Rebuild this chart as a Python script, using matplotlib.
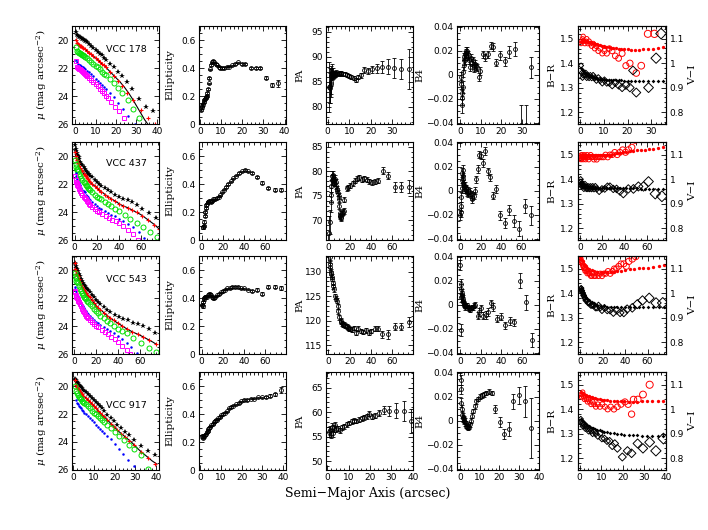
import matplotlib
matplotlib.use("Agg")
import matplotlib.pyplot as plt
from matplotlib.ticker import MultipleLocator, FuncFormatter

names = ["VCC 178", "VCC 437", "VCC 543", "VCC 917"]

# ---------------- surface brightness profiles (mag arcsec^-2) ----------------
mu178_star_x = [0.5,1,1.5,2,2.5,3,3.5,4,4.5,5,5.5,6,7,8,9,10,11,12,13,14,15,17,19,21,23,25.5,28,31,34.5,38]
mu178_star = [19.4,19.65,19.7,19.75,19.8,19.85,19.9,19.95,20.0,20.05,20.1,20.15,20.3,20.4,20.55,20.7,20.85,21.0,21.1,21.25,21.4,21.7,21.95,22.3,22.6,23.0,23.5,24.2,24.8,25.1]
mu178_red_x = [0.3,1,1.5,2,2.5,3,3.5,4,5,6,7,8,9,10,11,12,13,14,15,17,19,21,23,25.5,28.5,32,35.5,39]
mu178_red = [20.0,20.2,20.3,20.35,20.4,20.45,20.5,20.55,20.65,20.8,20.9,21.0,21.15,21.3,21.4,21.55,21.7,21.8,21.95,22.25,22.6,22.95,23.3,23.75,24.3,25.0,25.6,26.0]
mu178_line_x = [0.3,2,4,6,8,10,12,14,16,18,20,22,24,26,28,30,32,34,35.5]
mu178_line = [20.0,20.35,20.55,20.8,21.0,21.3,21.55,21.8,22.1,22.4,22.7,23.0,23.35,23.75,24.2,24.7,25.2,25.7,26.0]
mu178_grn_x = [0.3,1,1.5,2,2.5,3,3.5,4,4.5,5,6,7,8,9,10,11,12,13,14,15,17,19,21,23,26,28.5,31]
mu178_grn = [20.5,20.75,20.85,20.9,20.95,21.0,21.05,21.1,21.15,21.2,21.3,21.45,21.55,21.7,21.85,21.95,22.1,22.25,22.4,22.5,22.8,23.1,23.4,23.75,24.3,24.9,25.6]
mu178_blu_x = [0.5,1,1.5,2,2.5,3,3.5,4,4.5,5,6,7,8,9,10,11,12,13,14,15,17,19,21,23.5,26,29.5]
mu178_blu = [21.4,21.6,21.7,21.75,21.8,21.85,21.9,21.95,22.0,22.05,22.2,22.3,22.45,22.6,22.75,22.9,23.05,23.2,23.35,23.5,23.8,24.1,24.5,24.9,25.4,26.0]
mu178_mag_x = [0.5,1,1.5,2,2.5,3,3.5,4,4.5,5,5.5,6,7,8,9,10,11,12,13,14,15,16,17.5,19.5,21.5,24]
mu178_mag = [21.5,21.9,22.0,22.05,22.1,22.15,22.2,22.3,22.35,22.4,22.5,22.55,22.7,22.85,23.0,23.15,23.3,23.5,23.65,23.8,24.0,24.15,24.4,24.75,25.1,25.6]

mu437_star_x = [0.3,1,1.5,2,2.5,3,3.5,4,5,6,7,8,9,10,11,12,13,14,16,18,20,22,24,27,30,33,36,40,44,48,52,56,61,67,73.5]
mu437_star = [19.2,19.5,19.65,19.8,19.9,20.0,20.1,20.2,20.4,20.55,20.65,20.8,20.95,21.05,21.15,21.25,21.3,21.4,21.5,21.7,21.85,22.0,22.15,22.3,22.45,22.6,22.75,22.9,23.05,23.15,23.3,23.5,23.75,24.1,24.45]
mu437_red_x = [0.3,1,1.5,2,2.5,3,4,5,6,7,8,9,10,11,12,13,14,16,18,20,22,24,27,30,33,36,40,44,48,52,56,61,66,72,76]
mu437_red = [19.7,20.0,20.15,20.3,20.4,20.5,20.7,20.85,21.0,21.1,21.25,21.35,21.45,21.55,21.65,21.75,21.85,22.0,22.15,22.3,22.45,22.55,22.75,22.9,23.05,23.2,23.4,23.55,23.7,23.85,24.0,24.25,24.55,24.9,25.2]
mu437_line_x = [0.3,2,4,6,8,10,13,16,20,25,30,36,42,48,54,60,66,72,76]
mu437_line = [19.7,20.3,20.7,21.0,21.25,21.45,21.75,22.0,22.3,22.6,22.9,23.2,23.5,23.7,23.95,24.2,24.55,24.9,25.2]
mu437_grn_x = [0.3,1,1.5,2,2.5,3,4,5,6,7,8,9,10,11,12,13,14,16,18,20,22,24,27,30,33,36,40,45,50,56,62,68,74.5]
mu437_grn = [20.25,20.6,20.75,20.9,21.0,21.1,21.3,21.45,21.6,21.7,21.85,21.95,22.05,22.15,22.25,22.35,22.45,22.6,22.75,22.9,23.0,23.1,23.3,23.45,23.6,23.75,23.95,24.2,24.5,24.8,25.1,25.45,25.8]
mu437_blu_x = [1,1.5,2,2.5,3,4,5,6,7,8,9,10,11,12,13,14,16,18,20,22,24,27,30,33,36,40,44,48,53,58,63]
mu437_blu = [21.2,21.4,21.55,21.65,21.75,21.95,22.1,22.25,22.4,22.5,22.6,22.75,22.85,22.95,23.05,23.15,23.3,23.45,23.6,23.7,23.8,23.95,24.05,24.2,24.3,24.5,24.65,24.85,25.1,25.45,25.85]
mu437_mag_x = [0.5,1,1.5,2,2.5,3,3.5,4,5,6,7,8,9,10,11,12,13,14,16,18,20,22,25,28,31,34,37,40,44,48,53,57]
mu437_mag = [21.4,21.7,21.85,21.95,22.05,22.15,22.25,22.35,22.5,22.65,22.8,22.9,23.0,23.1,23.2,23.3,23.4,23.5,23.65,23.8,23.9,24.0,24.15,24.3,24.45,24.55,24.65,24.8,25.0,25.25,25.6,26.0]

mu543_star_x = [0.3,1,1.5,2,2.5,3,4,5,6,7,8,9,10,11,12,13,14,16,18,20,22,24,27,30,33,37,41,45,49,54,58,63,68,74]
mu543_star = [19.0,19.5,19.7,19.85,19.95,20.05,20.25,20.45,20.65,20.8,20.95,21.05,21.15,21.25,21.35,21.45,21.55,21.75,21.95,22.15,22.3,22.45,22.65,22.85,23.0,23.2,23.35,23.5,23.6,23.75,23.85,24.0,24.2,24.5]
mu543_red_x = [0.3,1,1.5,2,2.5,3,4,5,6,7,8,9,10,11,12,13,14,16,18,20,22,24,27,30,33,36,40,44,48,53,58,63,68,75]
mu543_red = [19.5,19.9,20.1,20.25,20.35,20.45,20.65,20.85,21.05,21.2,21.35,21.45,21.55,21.65,21.75,21.85,21.95,22.15,22.35,22.55,22.7,22.85,23.05,23.25,23.4,23.6,23.8,24.0,24.2,24.4,24.6,24.8,25.0,25.3]
mu543_line_x = [0.3,2,4,6,8,10,13,16,20,25,30,36,42,48,54,60,66,72,75]
mu543_line = [19.5,20.25,20.65,21.05,21.35,21.55,21.85,22.15,22.55,22.9,23.25,23.6,23.9,24.2,24.45,24.65,24.9,25.15,25.3]
mu543_grn_x = [0.3,1,1.5,2,2.5,3,4,5,6,7,8,9,10,11,12,13,14,16,18,20,22,24,27,30,33,36,40,44,48,54,61,68,75]
mu543_grn = [20.2,20.45,20.6,20.75,20.85,20.95,21.15,21.35,21.5,21.65,21.8,21.9,22.0,22.1,22.2,22.3,22.4,22.6,22.8,22.95,23.1,23.25,23.45,23.65,23.8,24.0,24.2,24.35,24.5,24.85,25.2,25.55,25.85]
mu543_blu_x = [0.5,1,1.5,2,2.5,3,4,5,6,7,8,9,10,11,12,13,14,16,18,20,22,24,27,30,33,36,40,44,48,52,57]
mu543_blu = [21.2,21.35,21.5,21.65,21.75,21.85,22.05,22.2,22.35,22.5,22.6,22.7,22.85,22.95,23.05,23.15,23.25,23.4,23.55,23.7,23.8,23.9,24.05,24.2,24.35,24.5,24.7,24.95,25.2,25.5,25.95]
mu543_mag_x = [0.5,1,1.5,2,2.5,3,3.5,4,5,6,7,8,9,10,11,12,13,14,16,18,20,22,25,28,31,34,37,40,44,48,51]
mu543_mag = [21.5,21.6,21.75,21.9,22.0,22.1,22.2,22.3,22.45,22.6,22.75,22.9,23.0,23.15,23.25,23.35,23.45,23.55,23.7,23.85,24.0,24.1,24.3,24.45,24.6,24.8,24.95,25.15,25.45,25.7,26.0]

mu917_star_x = [1,1.5,2,2.5,3,3.5,4,4.5,5,5.5,6,7,8,9,10,11,12,13,14,15,16.5,18,19.5,21,23,25,27,29.5,32.5,36,39.5]
mu917_star = [19.5,19.6,19.7,19.8,19.9,20.0,20.05,20.15,20.3,20.35,20.45,20.6,20.7,20.85,21.0,21.15,21.3,21.45,21.6,21.8,22.05,22.3,22.5,22.75,23.0,23.25,23.5,23.85,24.3,24.65,24.9]
mu917_red_x = [0.8,1.5,2,2.5,3,3.5,4,4.5,5,6,7,8,9,10,11,12,13,14,15,16.5,18,19.5,21,23,25,27,29.5,32.5,36,39.5]
mu917_red = [19.6,19.9,20.05,20.2,20.3,20.4,20.5,20.6,20.7,20.85,21.0,21.15,21.3,21.45,21.6,21.75,21.9,22.05,22.2,22.45,22.7,22.9,23.15,23.4,23.65,23.9,24.25,24.7,25.15,25.6]
mu917_line_x = [0.8,2,4,6,8,10,12,14,16,18,20,22,24,26,28,30,32,34,36,38,40]
mu917_line = [19.6,20.05,20.5,20.85,21.15,21.45,21.75,22.05,22.35,22.65,22.95,23.25,23.5,23.75,24.0,24.3,24.6,24.85,25.1,25.35,25.55]
mu917_grn_x = [1,1.5,2,2.5,3,3.5,4,4.5,5,5.5,6,7,8,9,10,11,12,13,14,15,16.5,18,20,22,24.5,27,29.5,32.5,36]
mu917_grn = [20.0,20.35,20.5,20.65,20.75,20.85,20.95,21.05,21.15,21.2,21.3,21.45,21.6,21.75,21.9,22.0,22.15,22.3,22.45,22.6,22.8,23.0,23.25,23.55,23.85,24.2,24.5,24.95,25.9]
mu917_blu_x = [1.5,2,2.5,3,3.5,4,4.5,5,5.5,6,7,8,9,10,11,12,13,14,15,16.5,18,20,22,24,26.5,29.5]
mu917_blu = [21.0,21.2,21.3,21.4,21.5,21.6,21.7,21.8,21.9,22.0,22.15,22.3,22.45,22.6,22.75,22.9,23.05,23.2,23.35,23.55,23.8,24.15,24.5,24.85,25.3,25.7]

# ---------------- ellipticity ----------------
e178_x = [0.5,0.8,1.1,1.4,1.7,2.0,2.3,2.6,2.9,3.2,3.5,3.8,4.1,4.4,4.8,5.2,5.7,6.2,6.8,7.4,8.1,8.8,9.6,10.5,11.5,12.6,13.8,15.1,16.5,18.0,19.7,21.5,24.0,26.3,28.5,31.2,34.0,37.0]
e178 = [0.10,0.12,0.13,0.14,0.16,0.17,0.18,0.19,0.19,0.20,0.22,0.25,0.29,0.33,0.39,0.42,0.44,0.45,0.44,0.43,0.42,0.41,0.40,0.40,0.40,0.41,0.41,0.42,0.43,0.44,0.43,0.43,0.40,0.40,0.40,0.33,0.28,0.29]
e178_err = [0.010,0.010,0.010,0.010,0.010,0.008,0.008,0.008,0.008,0.008,
            0.006,0.006,0.006,0.006,0.006,0.006,0.006,0.006,0.006,0.006,
            0.005,0.005,0.005,0.005,0.005,0.005,0.005,0.005,0.005,0.005,
            0.005,0.006,0.008,0.008,0.010,0.012,0.015,0.025]
e437_x = [1.0,1.5,2.0,2.5,3.0,3.5,4.0,4.5,5.0,5.5,6.0,7.0,8.0,9.0,10.0,11.0,12.0,13.0,14.5,16.0,17.5,19.0,21.0,23.0,25.0,27.5,30.0,32.5,35.0,38.0,41.0,44.0,47.5,52.0,57.5,63.0,69.5,75.5]
e437 = [0.09,0.09,0.10,0.13,0.17,0.20,0.23,0.25,0.26,0.27,0.27,0.28,0.28,0.27,0.28,0.29,0.29,0.29,0.30,0.31,0.32,0.34,0.36,0.38,0.40,0.42,0.44,0.46,0.48,0.49,0.50,0.49,0.48,0.45,0.41,0.37,0.36,0.36]
e437_err = [0.010,0.010,0.010,0.010,0.008,0.008,0.008,0.006,0.006,0.006,
            0.005,0.005,0.005,0.005,0.005,0.005,0.005,0.005,0.005,0.005,
            0.005,0.005,0.005,0.005,0.005,0.005,0.005,0.005,0.005,0.005,
            0.005,0.005,0.006,0.006,0.008,0.008,0.010,0.010]
e543_x = [0.5,1.0,1.5,2.0,2.5,3.0,3.5,4.0,5.0,6.0,7.0,8.0,9.0,10.0,11.0,12.0,13.0,14.5,16.0,18.0,20.0,22.0,24.0,26.5,29.0,31.5,34.0,37.0,40.0,43.5,47.5,52.0,57.5,62.5,69.0,75.5]
e543 = [0.35,0.34,0.37,0.39,0.40,0.41,0.41,0.41,0.41,0.42,0.43,0.43,0.42,0.41,0.40,0.40,0.41,0.42,0.43,0.44,0.45,0.46,0.47,0.47,0.48,0.48,0.48,0.47,0.47,0.46,0.45,0.46,0.43,0.48,0.48,0.47]
e543_err = [0.010,0.010,0.008,0.008,0.008,0.006,0.006,0.006,0.005,0.005,
            0.005,0.005,0.005,0.005,0.005,0.005,0.005,0.005,0.005,0.005,
            0.005,0.005,0.005,0.005,0.005,0.005,0.005,0.005,0.005,0.005,
            0.008,0.008,0.010,0.010,0.012,0.015]
e917_x = [0.8,1.2,1.6,2.0,2.4,2.8,3.2,3.6,4.0,4.5,5.0,5.5,6.0,6.5,7.0,7.5,8.0,8.7,9.5,10.3,11.2,12.1,13.0,14.0,15.0,16.0,17.2,18.5,19.8,21.2,22.7,24.3,26.0,27.8,29.7,31.7,33.8,36.0,38.8]
e917 = [0.24,0.23,0.24,0.24,0.25,0.26,0.27,0.28,0.29,0.30,0.31,0.32,0.33,0.34,0.35,0.36,0.36,0.37,0.38,0.39,0.40,0.41,0.42,0.44,0.45,0.46,0.47,0.48,0.49,0.50,0.50,0.51,0.51,0.52,0.52,0.52,0.53,0.54,0.57]
e917_err = [0.010,0.010,0.008,0.008,0.006,0.006,0.006,0.005,0.005,0.005,
            0.005,0.005,0.005,0.005,0.005,0.005,0.005,0.005,0.005,0.005,
            0.005,0.005,0.005,0.005,0.005,0.005,0.005,0.005,0.005,0.005,
            0.005,0.005,0.005,0.005,0.005,0.008,0.010,0.012,0.020]

# ---------------- position angle ----------------
pa178_x = [0.6,0.9,1.1,1.3,1.5,1.7,1.9,2.1,2.3,2.6,2.9,3.2,3.6,4.0,4.5,5.0,5.6,6.3,7.0,7.8,8.7,9.7,10.8,12.0,13.1,14.2,15.5,17.0,18.7,20.7,22.8,25.2,27.8,30.8,33.8,37.5]
pa178 = [84.0,84.2,83.8,84.5,85.0,86.2,87.0,86.5,86.8,86.3,86.5,86.6,86.5,86.8,86.6,86.7,86.6,86.8,86.6,86.5,86.3,86.2,86.0,85.8,85.3,85.9,86.3,87.4,87.1,87.5,87.7,87.9,88.0,87.7,87.6,87.6]
pa178_err = [5.0,3.5,3.0,2.5,2.5,2.0,1.5,1.2,1.0,0.8,
             0.7,0.6,0.5,0.5,0.4,0.4,0.4,0.4,0.4,0.4,
             0.4,0.4,0.4,0.4,0.4,0.4,0.5,0.6,0.6,0.7,
             0.9,1.2,1.5,2.0,2.0,4.0]
pa437_x = [0.9,1.6,2.2,2.5,2.8,3.1,3.5,4.0,4.4,4.7,5.0,5.3,5.7,6.2,6.7,7.2,7.8,8.4,9.0,9.6,10.0,10.3,10.6,10.9,11.3,11.8,12.3,12.8,13.5,14.2,15.0,17.1,18.7,20.2,22.7,24.9,27.0,29.0,31.1,33.3,35.8,38.3,41.0,44.0,46.7,51.3,56.0,62.2,68.4,75.6]
pa437 = [67.5,69.7,73.7,75.2,77.0,78.3,79.0,79.2,78.5,78.7,78.0,77.7,78.2,78.5,77.8,77.0,76.5,76.1,75.6,75.0,74.4,73.0,71.5,70.8,71.0,70.5,70.7,71.4,71.8,72.0,74.2,76.6,76.8,77.1,77.6,78.1,78.5,78.8,78.3,78.6,78.3,78.0,77.8,77.9,78.1,80.1,79.1,76.8,76.8,76.9]
pa437_err = [3.5,2.5,2.0,1.5,1.2,1.0,1.0,0.8,0.8,0.8,
             0.7,0.7,0.7,0.7,0.7,0.6,0.6,0.6,0.6,0.6,
             0.6,0.6,0.6,0.6,0.6,0.6,0.6,0.6,0.6,0.6,
             0.5,0.5,0.5,0.5,0.5,0.5,0.5,0.5,0.5,0.5,
             0.5,0.5,0.5,0.5,0.5,0.7,0.7,1.0,1.0,1.3]
pa543_x = [0.5,1.0,1.3,1.6,2.0,2.5,2.8,3.1,3.5,4.0,4.6,5.3,6.2,7.0,7.8,8.7,9.3,10.3,11.5,12.3,13.1,14.0,14.9,16.0,17.1,18.3,19.6,20.7,21.8,24.0,25.8,28.0,30.2,32.7,35.1,37.9,40.4,43.5,46.7,50.7,56.0,62.2,68.4,75.6]
pa543 = [137.0,134.5,133.0,131.5,131.0,130.0,129.5,129.0,128.5,127.7,127.0,126.4,125.0,124.5,124.1,122.9,121.9,120.7,120.0,119.8,119.5,119.2,119.2,119.0,118.9,118.6,118.4,118.3,118.2,118.5,117.5,118.4,117.9,117.7,118.0,117.5,117.9,118.4,118.4,117.2,117.2,118.8,118.8,119.8]
pa543_err = [1.0,1.0,0.8,0.8,0.7,0.6,0.6,0.5,0.5,0.5,
             0.5,0.5,0.5,0.5,0.5,0.5,0.5,0.5,0.5,0.5,
             0.5,0.5,0.5,0.5,0.5,0.5,0.5,0.5,0.5,0.5,
             0.5,0.5,0.5,0.5,0.5,0.5,0.5,0.5,0.5,0.7,
             1.0,0.8,0.8,1.0]
pa917_x = [1.0,1.4,1.8,2.2,2.7,3.0,3.5,4.1,4.9,5.9,7.0,8.1,9.1,10.2,11.5,12.6,13.7,15.0,16.3,17.4,18.6,19.8,21.0,22.5,24.2,26.6,29.0,32.0,35.7,39.4]
pa917 = [56.0,56.3,55.6,56.9,55.7,56.7,57.3,56.5,56.7,56.3,56.9,57.1,57.5,57.8,58.1,58.3,58.2,58.5,58.8,59.0,59.2,59.7,59.1,59.3,59.9,60.5,60.3,60.3,60.3,58.2]
pa917_err = [1.0,0.9,0.9,0.8,0.8,0.7,0.6,0.6,0.5,0.5,
             0.5,0.5,0.5,0.5,0.5,0.5,0.5,0.5,0.5,0.5,
             0.5,0.5,0.5,0.5,0.6,0.8,1.0,1.5,2.0,2.5]

# ---------------- B4 ----------------
b4_178_x = [0.3,0.5,0.7,0.9,1.1,1.3,1.5,1.7,1.9,2.1,2.3,2.5,2.8,3.1,3.4,3.7,4.1,4.5,4.9,5.3,5.7,6.2,6.6,7.0,7.4,7.8,8.2,9.0,9.8,11.1,12.3,13.4,15.1,16.1,17.5,19.7,21.8,24.1,26.6,29.5,32.0,34.8]
b4_178 = [-0.002,-0.008,-0.015,-0.019,-0.025,-0.010,0.002,0.008,0.012,0.015,0.017,0.012,0.020,0.018,0.020,0.015,0.017,0.012,0.006,0.014,0.010,0.012,0.0075,0.005,0.009,0.007,0.006,-0.002,0.003,0.017,0.0145,0.017,0.024,0.023,0.010,0.016,0.011,0.019,0.0215,-0.042,-0.042,0.006]
b4_178_err = [0.004,0.004,0.005,0.006,0.007,0.005,0.004,0.004,0.004,0.003,
              0.003,0.003,0.003,0.003,0.003,0.003,0.003,0.003,0.003,0.003,
              0.003,0.003,0.003,0.003,0.003,0.003,0.003,0.003,0.003,0.003,
              0.003,0.003,0.003,0.003,0.003,0.004,0.004,0.005,0.006,0.017,
              0.017,0.009]
b4_437_x = [0.3,0.6,0.9,1.2,1.5,1.8,2.1,2.4,2.7,3.0,3.3,3.7,4.1,4.5,5.0,5.5,6.0,6.6,7.3,8.2,9.3,10.5,11.3,12.1,13.1,14.2,15.4,17.0,18.7,20.3,22.3,24.6,26.9,29.5,32.1,35.4,39.3,43.6,47.5,52.5,57.4,63.0,69.5]
b4_437 = [-0.020,-0.018,-0.013,-0.005,0.002,0.009,0.015,0.017,0.012,0.0095,0.006,0.004,0.003,0.004,0.0015,0.001,0.002,-0.0015,-0.002,0.000,-0.001,-0.003,-0.005,-0.007,-0.004,0.000,0.0095,0.018,0.030,0.029,0.023,0.033,0.016,0.011,-0.004,0.0015,-0.0205,-0.027,-0.016,-0.025,-0.0315,-0.0125,-0.0205]
b4_437_err = [0.004,0.004,0.004,0.004,0.004,0.004,0.004,0.004,0.003,0.003,
              0.003,0.003,0.003,0.003,0.003,0.003,0.003,0.003,0.003,0.003,
              0.003,0.003,0.003,0.003,0.003,0.003,0.003,0.003,0.003,0.003,
              0.003,0.003,0.003,0.003,0.003,0.003,0.004,0.004,0.004,0.005,
              0.006,0.006,0.008]
b4_543_x = [0.3,0.5,0.7,1.0,1.3,1.6,1.9,2.2,2.6,3.0,3.3,3.8,4.3,4.8,5.2,5.8,6.6,7.4,8.2,9.3,10.5,11.5,12.5,13.6,14.8,17.0,18.5,20.3,22.3,24.6,26.9,29.5,31.8,35.4,39.3,43.3,48.2,52.5,58.0,63.3,69.5]
b4_543 = [0.033,0.006,-0.021,0.017,0.013,0.010,0.008,0.006,0.005,0.003,0.002,0.001,0.000,-0.001,-0.002,-0.001,-0.0005,-0.002,-0.003,-0.004,-0.0028,-0.002,-0.002,-0.001,0.000,-0.009,-0.006,-0.003,-0.009,-0.0085,-0.006,0.001,-0.002,-0.0115,-0.010,-0.017,-0.0135,-0.0145,0.020,0.002,-0.0295]
b4_543_err = [0.004,0.004,0.005,0.004,0.004,0.003,0.003,0.003,0.003,0.003,
              0.002,0.002,0.002,0.002,0.002,0.002,0.002,0.002,0.002,0.002,
              0.002,0.002,0.002,0.002,0.002,0.003,0.003,0.003,0.003,0.003,
              0.003,0.003,0.003,0.003,0.003,0.003,0.003,0.003,0.006,0.006,
              0.006]
b4_917_x = [0.3,0.5,0.7,0.9,1.1,1.3,1.6,1.9,2.2,2.5,2.9,3.3,3.7,4.1,4.6,5.1,5.6,6.2,6.8,7.5,8.3,9.2,10.1,11.1,12.2,13.4,14.7,16.1,17.9,20.1,22.1,24.7,26.9,29.8,32.9,36.1]
b4_917 = [0.034,0.026,0.015,0.010,0.005,0.003,0.002,0.001,0.000,-0.001,-0.002,-0.004,-0.005,-0.006,-0.005,-0.003,0.000,0.004,0.008,0.012,0.016,0.018,0.020,0.021,0.022,0.023,0.024,0.023,0.0097,-0.001,-0.011,-0.007,0.016,0.021,0.016,-0.006]
b4_917_err = [0.004,0.004,0.004,0.003,0.003,0.003,0.003,0.003,0.003,0.003,
              0.002,0.002,0.002,0.002,0.002,0.002,0.002,0.002,0.002,0.002,
              0.002,0.002,0.002,0.002,0.002,0.002,0.002,0.002,0.003,0.004,
              0.004,0.006,0.006,0.007,0.013,0.025]

# ---------------- colours: B-R (red, left axis) and V-I (black, right axis) ----------------
col178_mod_x = [0.3,0.7,1.1,1.5,1.9,2.3,2.7,3.1,3.5,4.0,4.5,5.0,5.6,6.2,6.9,7.6,8.4,9.2,10.1,11.0,12.0,13.0,14.0,15.1,16.2,17.4,18.7,20.1,21.6,23.2,24.9,26.7,28.6,30.6,32.7,34.9]
br178_mod = [1.488,1.490,1.492,1.493,1.492,1.490,1.490,1.488,1.487,1.486,1.485,1.484,1.482,1.480,1.478,1.476,1.474,1.472,1.470,1.468,1.466,1.464,1.462,1.461,1.460,1.459,1.458,1.457,1.456,1.456,1.456,1.457,1.458,1.460,1.462,1.465]
vi178_mod = [0.980,0.975,0.970,0.965,0.960,0.958,0.955,0.952,0.950,0.948,0.946,0.944,0.942,0.940,0.938,0.937,0.936,0.935,0.934,0.933,0.932,0.931,0.931,0.930,0.930,0.930,0.929,0.929,0.929,0.929,0.929,0.929,0.929,0.929,0.929,0.929]
br178_x = [0.3,0.6,0.9,1.2,1.5,1.9,2.3,2.7,3.2,3.7,4.2,4.8,5.4,6.1,6.8,7.6,8.4,9.3,10.2,11.2,12.3,13.5,14.8,16.2,17.7,19.3,21.0,23.7,25.8,28.6,31.4]
br178 = [1.48,1.49,1.50,1.51,1.49,1.48,1.49,1.50,1.48,1.49,1.48,1.47,1.48,1.46,1.47,1.45,1.46,1.44,1.45,1.44,1.46,1.45,1.43,1.42,1.44,1.39,1.40,1.36,1.39,1.52,1.52]
vi178_x = [0.3,0.6,0.9,1.2,1.5,1.9,2.3,2.7,3.2,3.7,4.2,4.8,5.4,6.1,6.8,7.6,8.4,9.3,10.2,11.2,12.3,13.5,14.8,16.2,17.7,19.3,21.0,22.3,23.7,28.9,32.1,34.2]
vi178 = [0.99,0.96,0.94,0.95,0.96,0.95,0.96,0.94,0.95,0.94,0.95,0.94,0.95,0.94,0.93,0.94,0.93,0.92,0.93,0.92,0.92,0.91,0.92,0.91,0.90,0.91,0.90,0.97,0.88,0.90,1.02,1.12]

col437_mod_x = [0.3,0.8,1.3,1.8,2.4,3.0,3.7,4.4,5.2,6.0,6.9,7.9,9.0,10.2,11.5,12.9,14.4,16.0,17.7,19.5,21.4,23.4,25.6,27.9,30.3,32.8,35.5,38.4,41.4,44.6,47.9,51.3,54.8,58.4,62.1,66.0,70.1,74.4]
br437_mod = [1.497,1.497,1.497,1.497,1.497,1.497,1.497,1.497,1.497,1.497,1.497,1.497,1.497,1.497,1.497,1.497,1.497,1.497,1.497,1.497,1.497,1.497,1.498,1.500,1.504,1.507,1.509,1.511,1.513,1.515,1.516,1.518,1.519,1.521,1.523,1.525,1.528,1.533]
vi437_mod = [0.990,0.985,0.980,0.977,0.975,0.973,0.971,0.970,0.969,0.968,0.967,0.966,0.966,0.965,0.965,0.965,0.965,0.965,0.965,0.965,0.965,0.965,0.964,0.964,0.964,0.963,0.963,0.963,0.962,0.962,0.962,0.962,0.961,0.961,0.961,0.960,0.960,0.960]
br437_x = [0.3,0.6,0.9,1.2,1.5,1.9,2.3,2.7,3.2,3.7,4.2,4.8,5.4,6.1,6.8,7.6,8.4,9.3,10.2,11.2,12.3,13.5,14.8,16.2,17.7,19.3,21.0,22.8,24.7,26.7,28.8,31.0,33.3,35.7,38.2,40.8,43.5,46.4,49.4]
br437 = [1.48,1.49,1.50,1.48,1.49,1.50,1.49,1.48,1.49,1.50,1.49,1.48,1.49,1.50,1.49,1.48,1.49,1.50,1.49,1.49,1.48,1.49,1.48,1.49,1.49,1.49,1.49,1.50,1.49,1.50,1.50,1.51,1.50,1.51,1.52,1.51,1.52,1.53,1.56]
vi437_x = [0.3,0.6,0.9,1.2,1.5,1.9,2.3,2.7,3.2,3.7,4.2,4.8,5.4,6.1,6.8,7.6,8.4,9.3,10.2,11.2,12.3,13.5,14.8,17.0,19.5,22.0,24.5,26.7,29.7,32.7,35.8,38.8,43.3,47.9,52.4,57.0,61.5,67.6,73.6]
vi437 = [1.00,0.99,0.98,0.97,0.98,0.97,0.98,0.97,0.96,0.97,0.98,0.97,0.96,0.97,0.96,0.97,0.96,0.97,0.96,0.97,0.96,0.97,0.96,0.95,0.96,0.96,0.97,0.97,0.96,0.96,0.95,0.94,0.96,0.96,0.97,0.97,0.99,0.94,0.93]

col543_mod_x = [0.5,1,2,3,4,5,6,8,10,12,15,18,21,24,27,30,33,36,40,44,48,52,56,60,65,70,75]
br543_mod = [1.55,1.54,1.53,1.52,1.515,1.51,1.505,1.50,1.495,1.49,1.488,1.486,1.485,1.486,1.487,1.488,1.489,1.491,1.494,1.497,1.499,1.501,1.503,1.505,1.508,1.511,1.514]
vi543_mod = [1.020,1.015,1.005,0.995,0.988,0.982,0.977,0.970,0.964,0.958,0.952,0.948,0.946,0.945,0.945,0.945,0.945,0.945,0.945,0.945,0.945,0.945,0.945,0.945,0.945,0.945,0.945]
br543_x = [0.3,0.6,0.9,1.2,1.5,1.9,2.3,2.7,3.2,3.7,4.2,4.8,5.4,6.1,6.8,7.6,8.4,9.3,10.2,11.2,12.3,13.5,14.8,16.2,17.7,19.3,21.0,22.8,24.7,26.7,28.8,30.3,32.2,34.2,36.3,38.8,41.0,43.3,46.4,49.4]
br543 = [1.55,1.54,1.53,1.53,1.52,1.52,1.51,1.51,1.50,1.50,1.49,1.50,1.49,1.48,1.49,1.48,1.48,1.47,1.47,1.48,1.47,1.47,1.48,1.47,1.48,1.47,1.48,1.48,1.49,1.48,1.49,1.50,1.50,1.51,1.52,1.52,1.51,1.53,1.54,1.55]
vi543_x = [0.3,0.6,0.9,1.2,1.5,1.9,2.3,2.7,3.2,3.7,4.2,4.8,5.4,6.1,6.8,7.6,8.4,9.3,10.2,11.2,12.3,13.5,14.8,16.2,17.7,19.3,21.5,24.0,26.5,29.5,32.5,35.5,38.8,41.8,46.4,50.9,55.5,61.5,67.6,73.6]
vi543 = [1.01,1.02,1.02,1.01,1.01,1.00,1.00,0.99,0.99,0.98,0.98,0.97,0.97,0.97,0.96,0.96,0.96,0.95,0.95,0.95,0.95,0.94,0.94,0.95,0.94,0.93,0.94,0.93,0.93,0.92,0.93,0.92,0.92,0.935,0.94,0.955,0.97,0.98,0.96,0.96]

col917_mod_x = [0.5,1.0,1.5,2.0,2.5,3.0,3.6,4.2,4.9,5.6,6.4,7.3,8.2,9.2,10.3,11.5,12.8,14.2,15.7,17.3,19.0,20.8,22.7,24.7,26.8,29.0,31.3,33.7,36.2,38.8]
br917_mod = [1.470,1.468,1.465,1.462,1.460,1.458,1.455,1.452,1.450,1.448,1.446,1.444,1.442,1.440,1.438,1.437,1.436,1.435,1.434,1.433,1.432,1.432,1.431,1.431,1.431,1.432,1.432,1.433,1.433,1.434]
vi917_mod = [0.960,0.955,0.950,0.946,0.942,0.938,0.935,0.931,0.928,0.925,0.922,0.919,0.916,0.913,0.910,0.907,0.905,0.903,0.901,0.899,0.897,0.896,0.895,0.894,0.893,0.892,0.892,0.891,0.891,0.891]
br917_x = [0.5,0.8,1.1,1.4,1.8,2.2,2.6,3.1,3.6,4.1,4.7,5.3,6.0,6.7,7.5,8.4,9.4,10.5,11.7,13.0,14.4,15.9,17.5,19.2,21.0,22.5,24.1,25.0,27.0,29.4,32.5]
br917 = [1.46,1.45,1.46,1.47,1.45,1.44,1.45,1.44,1.43,1.44,1.43,1.42,1.43,1.42,1.41,1.42,1.41,1.42,1.41,1.40,1.41,1.40,1.41,1.42,1.43,1.42,1.38,1.44,1.44,1.46,1.50]
vi917_x = [0.5,0.8,1.1,1.4,1.8,2.2,2.6,3.1,3.6,4.1,4.7,5.3,6.0,6.7,7.5,8.4,9.4,10.3,11.5,12.7,13.9,15.1,16.3,17.5,19.8,22.2,24.1,26.9,29.4,32.5,35.4,38.9]
vi917 = [0.96,0.95,0.94,0.93,0.94,0.93,0.92,0.93,0.92,0.91,0.92,0.91,0.90,0.91,0.90,0.89,0.90,0.88,0.88,0.87,0.87,0.85,0.86,0.84,0.805,0.83,0.82,0.86,0.84,0.865,0.83,0.88]

# ---------------- tables built from the lists above ----------------
mu_rows = [
    [(mu178_line_x, mu178_line), (mu178_star_x, mu178_star), (mu178_red_x, mu178_red),
     (mu178_grn_x, mu178_grn), (mu178_blu_x, mu178_blu), (mu178_mag_x, mu178_mag)],
    [(mu437_line_x, mu437_line), (mu437_star_x, mu437_star), (mu437_red_x, mu437_red),
     (mu437_grn_x, mu437_grn), (mu437_blu_x, mu437_blu), (mu437_mag_x, mu437_mag)],
    [(mu543_line_x, mu543_line), (mu543_star_x, mu543_star), (mu543_red_x, mu543_red),
     (mu543_grn_x, mu543_grn), (mu543_blu_x, mu543_blu), (mu543_mag_x, mu543_mag)],
    [(mu917_line_x, mu917_line), (mu917_star_x, mu917_star), (mu917_red_x, mu917_red),
     (mu917_grn_x, mu917_grn), (mu917_blu_x, mu917_blu), None],
]
ell_rows = [(e178_x, e178, e178_err), (e437_x, e437, e437_err), (e543_x, e543, e543_err), (e917_x, e917, e917_err)]
pa_rows = [(pa178_x, pa178, pa178_err), (pa437_x, pa437, pa437_err), (pa543_x, pa543, pa543_err), (pa917_x, pa917, pa917_err)]
b4_rows = [(b4_178_x, b4_178, b4_178_err), (b4_437_x, b4_437, b4_437_err), (b4_543_x, b4_543, b4_543_err), (b4_917_x, b4_917, b4_917_err)]
col_rows = [
    (col178_mod_x, br178_mod, vi178_mod, br178_x, br178, vi178_x, vi178),
    (col437_mod_x, br437_mod, vi437_mod, br437_x, br437, vi437_x, vi437),
    (col543_mod_x, br543_mod, vi543_mod, br543_x, br543, vi543_x, vi543),
    (col917_mod_x, br917_mod, vi917_mod, br917_x, br917, vi917_x, vi917),
]

# axis ranges
xlims = [
    [(-1.5, 41), (-0.5, 40.7), (-0.8, 39.5), (-1.5, 38.5), (-1, 36.3)],
    [(-2.4, 76.1), (-2.6, 79.9), (-2.2, 79.3), (-3, 77), (-2.1, 77.3)],
    [(-2.1, 77.6), (-2.6, 79.9), (-2.2, 79.3), (-2.9, 76.2), (-2.1, 76.5)],
    [(-0.5, 41.3), (-0.5, 41.3), (-0.5, 40.1), (-1.5, 40), (-0.8, 40.1)],
]
pa_lims = [(76.5, 96.2), (66, 86), (113.2, 133.2), (48.2, 68.2)]
name_y = [0.76, 0.78, 0.765, 0.66]

plt.rcParams["font.family"] = "DejaVu Sans"
plt.rcParams["mathtext.fontset"] = "dejavuserif"
LABEL = dict(family="DejaVu Serif", size=7.5)


def fmt(v, pos):
    v = round(v, 6)
    if abs(v) < 1e-9:
        return "0"
    return ("%g" % v).replace("-", "\u2212")


def style(ax, xmaj, xmin, ymaj, ymin, right=True):
    ax.xaxis.set_major_locator(MultipleLocator(xmaj))
    ax.xaxis.set_minor_locator(MultipleLocator(xmin))
    ax.yaxis.set_major_locator(MultipleLocator(ymaj))
    ax.yaxis.set_minor_locator(MultipleLocator(ymin))
    ax.xaxis.set_major_formatter(FuncFormatter(fmt))
    ax.yaxis.set_major_formatter(FuncFormatter(fmt))
    ax.tick_params(which="both", direction="in", top=True, right=right,
                   labelsize=6.5, width=0.6, pad=2.5)
    ax.tick_params(which="major", length=3.5)
    ax.tick_params(which="minor", length=1.8)
    for s in ax.spines.values():
        s.set_linewidth(0.8)


fig = plt.figure(figsize=(7.08, 5.30), dpi=100)
W, H = 708.0, 530.0
col_left = [72, 199, 326, 457, 578]
col_width = [87, 87, 87, 82, 88]
row_top = [26, 142, 256, 372]
row_h = 98

ebar = dict(fmt="o", ms=2.8, mfc="none", mec="k", mew=0.6, ecolor="k",
            elinewidth=0.6, capsize=1.2, capthick=0.6)

for r in range(4):
    axes = [fig.add_axes([col_left[c] / W, 1 - (row_top[r] + row_h) / H,
                          col_width[c] / W, row_h / H]) for c in range(5)]
    if r in (0, 3):
        xmaj, xmin = 10, 2
    else:
        xmaj, xmin = 20, 5

    # surface brightness
    ax = axes[0]
    line, star, red, grn, blu, mag = mu_rows[r]
    ax.plot(line[0], line[1], color="k", lw=0.8)
    ax.plot(star[0], star[1], "*", color="k", ms=4.2, mew=0)
    ax.plot(red[0], red[1], "+", color="red", ms=3, mew=0.8)
    ax.plot(grn[0], grn[1], "o", mfc="none", mec="#00e000", ms=3.6, mew=0.7)
    ax.plot(blu[0], blu[1], "o", color="blue", ms=1.8, mew=0)
    if mag is not None:
        ax.plot(mag[0], mag[1], "s", mfc="none", mec="magenta", ms=3.2, mew=0.7)
    ax.set_xlim(*xlims[r][0])
    ax.set_ylim(26, 19)
    style(ax, xmaj, xmin, 2, 0.5)
    ax.set_ylabel(r"$\mu$ (mag arcsec$^{-2}$)", **LABEL)
    ax.yaxis.set_label_coords(-0.26, 0.5)
    ax.text(0.63, name_y[r], names[r], transform=ax.transAxes, ha="center",
            va="center", fontsize=6.8)

    # ellipticity
    ax = axes[1]
    ex, ey, ee = ell_rows[r]
    ax.errorbar(ex, ey, yerr=ee, **ebar)
    ax.set_xlim(*xlims[r][1])
    ax.set_ylim(0, 0.7)
    style(ax, xmaj, xmin, 0.2, 0.05)
    ax.set_ylabel("Ellipticity", **LABEL)
    ax.yaxis.set_label_coords(-0.28, 0.5)

    # position angle
    ax = axes[2]
    px, py, pe = pa_rows[r]
    ax.errorbar(px, py, yerr=pe, **ebar)
    ax.set_xlim(*xlims[r][2])
    ax.set_ylim(*pa_lims[r])
    style(ax, xmaj, xmin, 5, 1)
    ax.set_ylabel("PA", **LABEL)
    ax.yaxis.set_label_coords(-0.25, 0.5)

    # B4
    ax = axes[3]
    bx, by, be = b4_rows[r]
    ax.errorbar(bx, by, yerr=be, **ebar)
    ax.set_xlim(*xlims[r][3])
    ax.set_ylim(-0.041, 0.0405)
    style(ax, xmaj, xmin, 0.02, 0.005)
    ax.set_ylabel("B4", **LABEL)
    ax.yaxis.set_label_coords(-0.40, 0.5)

    # colours
    ax = axes[4]
    mx, brm, vim, brx, bro, vix, vio = col_rows[r]
    lo, hi = xlims[r][4]
    ax2 = ax.twinx()
    ax.scatter(brx, bro, s=[(3.0 + 2.6 * x / hi) ** 2 for x in brx],
               facecolors="none", edgecolors="red", linewidths=0.7, zorder=3)
    ax.plot(mx, brm, "o", color="red", ms=2.4, mew=0, zorder=4)
    ax2.scatter(vix, vio, s=[(2.6 + 3.0 * x / hi) ** 2 for x in vix], marker="D",
                facecolors="none", edgecolors="k", linewidths=0.7, zorder=3)
    ax2.plot(mx, vim, "D", color="k", ms=1.9, mew=0, zorder=4)
    ax.set_xlim(lo, hi)
    ax.set_ylim(1.152, 1.552)
    ax2.set_ylim(0.752, 1.151)
    style(ax, xmaj, xmin, 0.1, 0.02, right=False)
    ax2.yaxis.set_major_locator(MultipleLocator(0.1))
    ax2.yaxis.set_minor_locator(MultipleLocator(0.02))
    ax2.yaxis.set_major_formatter(FuncFormatter(fmt))
    ax2.tick_params(which="both", direction="in", labelsize=6.5, width=0.6, pad=2.5)
    ax2.tick_params(which="major", length=3.5)
    ax2.tick_params(which="minor", length=1.8)
    ax.set_ylabel("B\u2212R", **LABEL)
    ax.yaxis.set_label_coords(-0.24, 0.5)
    ax2.set_ylabel("V\u2212I", rotation=90, **LABEL)
    ax2.yaxis.set_label_coords(1.25, 0.5)

fig.text(0.52, 0.068, "Semi\u2212Major Axis (arcsec)", ha="center", va="center",
         family="DejaVu Serif", size=9)

fig.savefig("out.png", dpi=100)
